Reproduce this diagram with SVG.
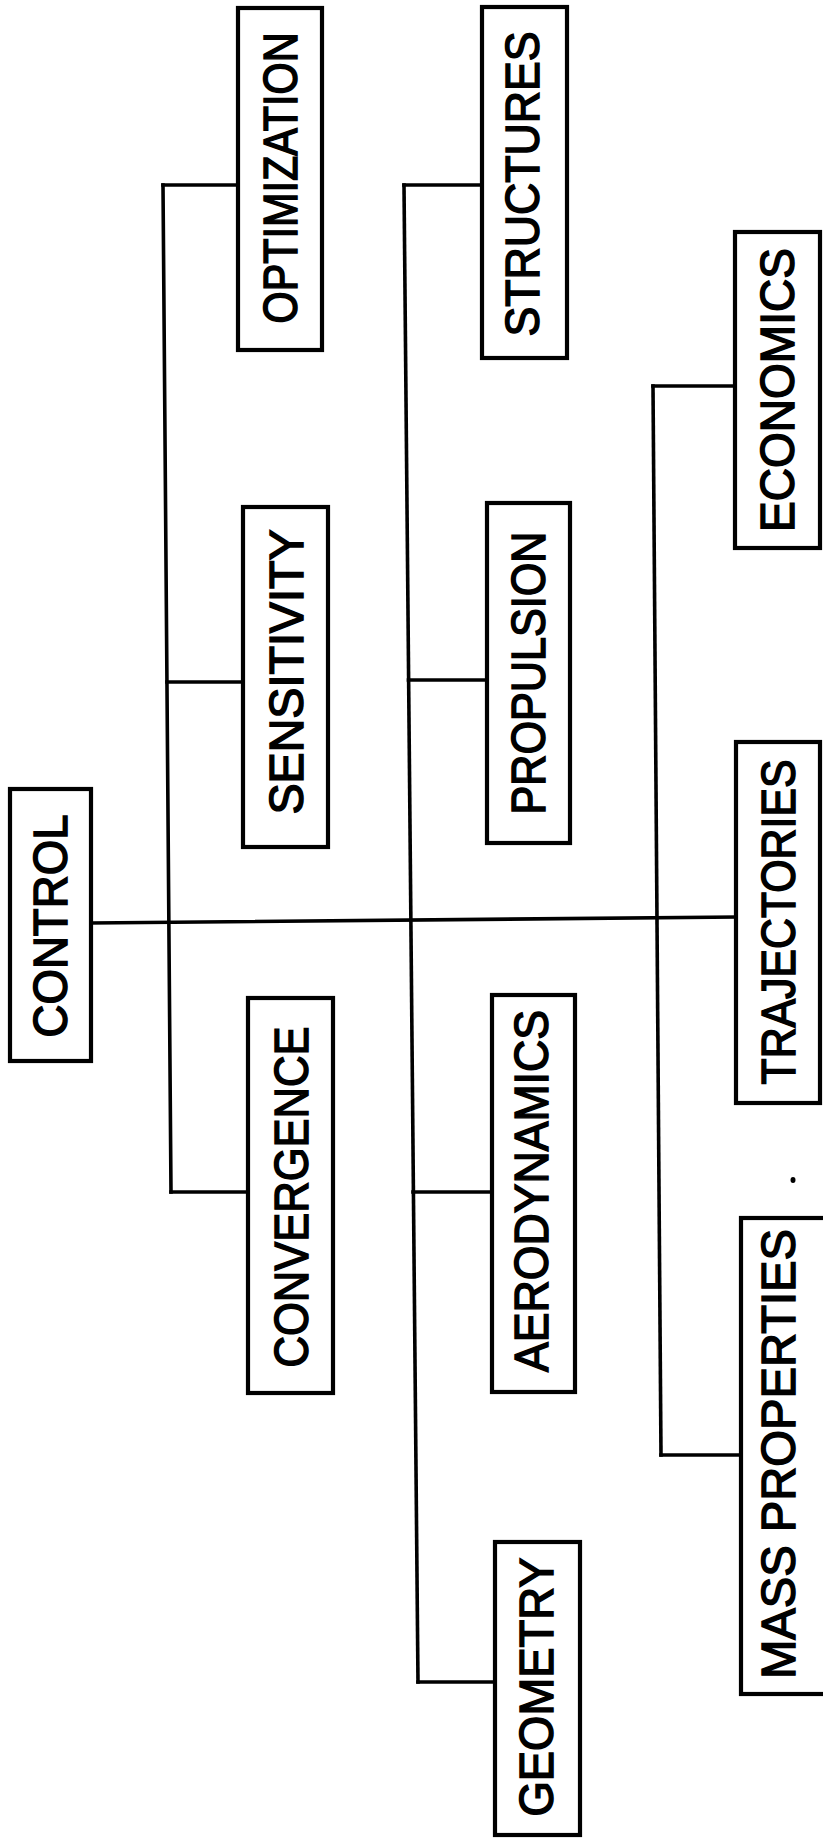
<svg xmlns="http://www.w3.org/2000/svg" width="823" height="1839" viewBox="0 0 823 1839">
<style>
.box{fill:#fff;stroke:#000;stroke-width:4.2}
.lbl{font-family:"Liberation Sans",Arial,sans-serif;font-size:48px;fill:#000;stroke:#000;stroke-width:1.5;text-anchor:middle}
.ln{fill:none;stroke:#000;stroke-width:3.6;stroke-linecap:square}
</style>
<rect width="823" height="1839" fill="#fff"/>
<g id="connectors">
<path class="ln" d="M91,923 L736,917"/>
<path class="ln" d="M163,185 L171,1192"/>
<path class="ln" d="M163,185 H238"/>
<path class="ln" d="M167,682 H243"/>
<path class="ln" d="M171,1192 H248"/>
<path class="ln" d="M404,185 L418,1682"/>
<path class="ln" d="M404,185 H482"/>
<path class="ln" d="M408.5,680 H487"/>
<path class="ln" d="M413,1192 H492"/>
<path class="ln" d="M418,1682 H495"/>
<path class="ln" d="M653,386 L661,1455"/>
<path class="ln" d="M653,386 H735"/>
<path class="ln" d="M661,1455 H741"/>
</g>
<g id="control"><rect class="box" x="10" y="789" width="81" height="272"/><text class="lbl" transform="translate(50,926) rotate(-90)" y="17" textLength="223" lengthAdjust="spacingAndGlyphs">CONTROL</text></g>
<g id="optimization"><rect class="box" x="238" y="8" width="84" height="342"/><text class="lbl" transform="translate(280,178) rotate(-90)" y="17" textLength="291" lengthAdjust="spacingAndGlyphs">OPTIMIZATION</text></g>
<g id="sensitivity"><rect class="box" x="243" y="507" width="85" height="340"/><text class="lbl" transform="translate(285.5,672) rotate(-90)" y="17" textLength="285" lengthAdjust="spacingAndGlyphs">SENSITIVITY</text></g>
<g id="convergence"><rect class="box" x="248" y="998" width="85" height="395"/><text class="lbl" transform="translate(290.5,1197) rotate(-90)" y="17" textLength="341" lengthAdjust="spacingAndGlyphs">CONVERGENCE</text></g>
<g id="structures"><rect class="box" x="482" y="7" width="85" height="351"/><text class="lbl" transform="translate(521.5,184) rotate(-90)" y="17" textLength="305" lengthAdjust="spacingAndGlyphs">STRUCTURES</text></g>
<g id="propulsion"><rect class="box" x="487" y="503" width="83" height="340"/><text class="lbl" transform="translate(527.5,673) rotate(-90)" y="17" textLength="283" lengthAdjust="spacingAndGlyphs">PROPULSION</text></g>
<g id="aerodynamics"><rect class="box" x="492" y="995" width="83" height="397"/><text class="lbl" transform="translate(531,1191) rotate(-90)" y="17" textLength="362" lengthAdjust="spacingAndGlyphs">AERODYNAMICS</text></g>
<g id="geometry"><rect class="box" x="495" y="1542" width="85" height="293"/><text class="lbl" transform="translate(535.5,1687) rotate(-90)" y="17" textLength="259" lengthAdjust="spacingAndGlyphs">GEOMETRY</text></g>
<g id="economics"><rect class="box" x="735" y="232" width="85" height="316"/><text class="lbl" transform="translate(777,390) rotate(-90)" y="17" textLength="284" lengthAdjust="spacingAndGlyphs">ECONOMICS</text></g>
<g id="trajectories"><rect class="box" x="736" y="742" width="84" height="361"/><text class="lbl" transform="translate(778,922) rotate(-90)" y="17" textLength="325" lengthAdjust="spacingAndGlyphs">TRAJECTORIES</text></g>
<g id="mass-properties"><rect class="box" x="741" y="1218" width="90" height="476"/><text class="lbl" transform="translate(778,1454) rotate(-90)" y="17" textLength="450" lengthAdjust="spacingAndGlyphs">MASS PROPERTIES</text></g>
<ellipse cx="793" cy="1180" rx="2.5" ry="3" fill="#000"/>
</svg>
